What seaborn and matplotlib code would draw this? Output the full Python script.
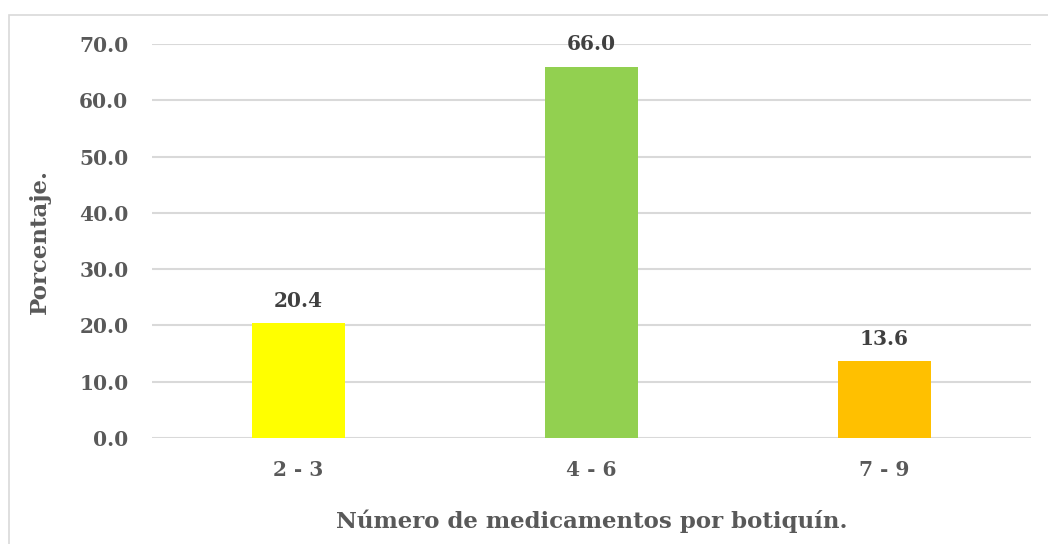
import seaborn as sns
import pandas as pd
import matplotlib
matplotlib.use('Agg')
import matplotlib.pyplot as plt
from matplotlib.patches import Rectangle

sns.set_style('white')
plt.rcParams['font.family'] = ['DejaVu Serif']
plt.rcParams['font.weight'] = 'bold'

categorias = ['2 - 3', '4 - 6', '7 - 9']
porcentajes = [20.4, 66.0, 13.6]
colores = ['#FFFF00', '#92D050', '#FFC000']
y_ticks = [0, 10, 20, 30, 40, 50, 60, 70]

df = pd.DataFrame({'rango': categorias, 'pct': porcentajes})

gris = '#595959'
fig = plt.figure(figsize=(10.48, 5.44), dpi=100)
ax = fig.add_axes([152 / 1048, 1 - 438 / 544, (1031 - 152) / 1048, (438 - 44) / 544])

# light frame around the whole chart (Excel style)
fig.patches.append(Rectangle((9 / 1048, -0.1), 1.2, 1 - 15 / 544 + 0.1,
                             transform=fig.transFigure, fill=False,
                             edgecolor='#D9D9D9', linewidth=1.2))

sns.barplot(data=df, x='rango', y='pct', hue='rango', palette=colores,
            saturation=1, width=0.314, linewidth=0, legend=False, ax=ax,
            zorder=3)

ax.set_xlim(-0.5, 2.5)
ax.set_ylim(0, 70)
ax.set_yticks(y_ticks)
ax.set_yticklabels([f'{v:.1f}' for v in y_ticks])
ax.grid(axis='y', color='#D9D9D9', linewidth=1.5, zorder=0)
ax.set_axisbelow(True)
for s in ax.spines.values():
    s.set_visible(False)
ax.tick_params(axis='both', length=0, labelsize=14.5, labelcolor=gris)
ax.tick_params(axis='y', pad=17)
ax.tick_params(axis='x', pad=16)

for i, v in enumerate(porcentajes):
    ax.text(i, v + 2.2, f'{v:.1f}', ha='center', va='bottom', fontsize=14.5,
            color='#404040', fontweight='bold', clip_on=False)

ax.set_xlabel('Número de medicamentos por botiquín.', fontsize=16.5,
              color=gris, fontweight='bold', labelpad=21)
ax.set_ylabel('Porcentaje.', fontsize=16.5, color=gris, fontweight='bold',
              labelpad=20)

fig.savefig('out.png', dpi=100)
